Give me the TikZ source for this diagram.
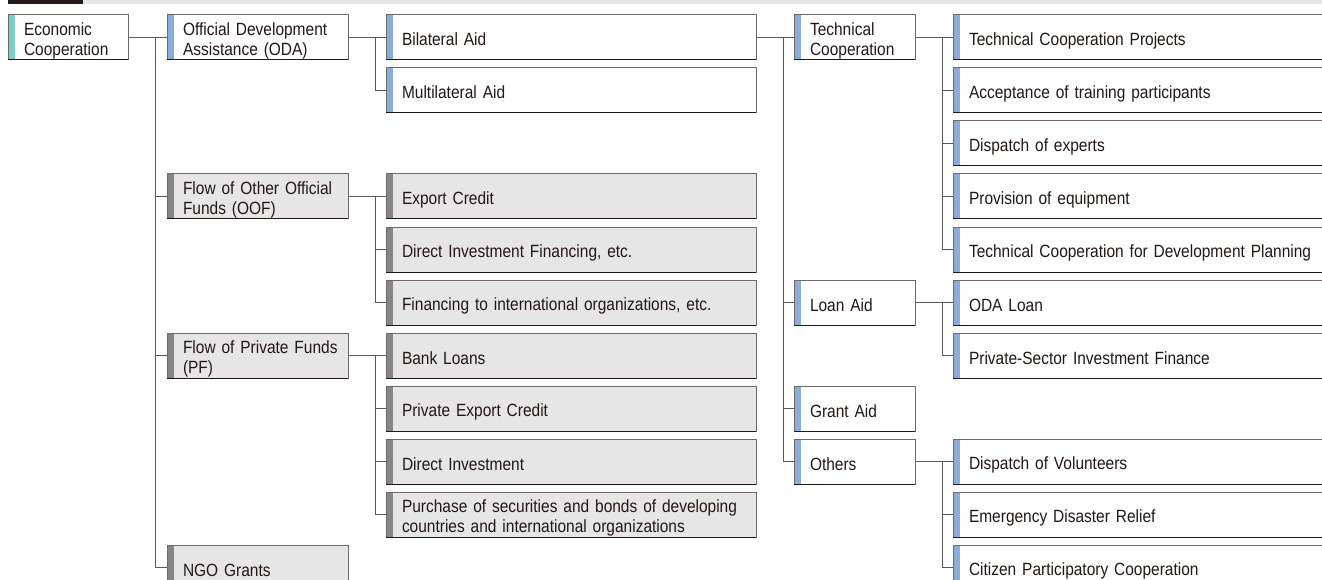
\documentclass[tikz,border=0pt]{standalone}
\usepackage{fontspec}
\setmainfont[FakeStretch=0.875]{Liberation Sans}
\usepackage{tikz}
\usetikzlibrary{positioning}

\definecolor{ink}{HTML}{231815}
\definecolor{boxline}{HTML}{6E6A69}
\definecolor{wire}{HTML}{5E5857}
\definecolor{greyfill}{HTML}{E6E6E6}
\definecolor{greybar}{HTML}{868686}
\definecolor{bluebar}{HTML}{8AACDB}
\definecolor{tealbar}{HTML}{7ECDC6}

\tikzset{
  box/.style={draw=boxline, line width=1pt, outer sep=0pt, anchor=north west,
    minimum height=45pt, inner xsep=6pt, inner ysep=0pt, align=left, text=ink,
    font=\fontsize{17.7}{20}\selectfont,
    execute at begin node={\leftskip=10pt\rule{0pt}{20pt}},
    execute at end node={\rule[-3pt]{0pt}{3pt}},
    path picture={\fill[#1] (path picture bounding box.south west)
      rectangle ([xshift=7pt]path picture bounding box.north west);},
    append after command={(\tikzlastnode.south west) edge[draw=ink, line width=1pt]
      (\tikzlastnode.south east)}},
  oda/.style={box=bluebar, fill=white},
  oof/.style={box=greybar, fill=greyfill},
  colA/.style={text width=108pt},
  colB/.style={text width=169pt},
  colC/.style={text width=358pt},
  colD/.style={text width=109pt},
  colE/.style={text width=388pt},
  link/.style={draw=wire, line width=1pt}
}

\begin{document}
\begin{tikzpicture}[x=1pt,y=-1pt,node distance=8pt]
  \useasboundingbox (0,0) rectangle (1322,580);
  % title strip
  \fill[ink] (8,0) rectangle (83,4.5);
  \fill[greyfill] (83,0) rectangle (1322,4.5);

  % third column
  \node[oda,colC] (bilateral) at (386,15) {Bilateral Aid};
  \node[oda,colC] (multilateral) [below=of bilateral] {Multilateral Aid};
  \node[oof,colC] (export) [below=61pt of multilateral] {Export Credit};
  \node[oof,colC] (dif) [below=of export] {Direct Investment Financing, etc.};
  \node[oof,colC] (finint) [below=of dif] {Financing to international organizations, etc.};
  \node[oof,colC] (bank) [below=of finint] {Bank Loans};
  \node[oof,colC] (pexport) [below=of bank] {Private Export Credit};
  \node[oof,colC] (dinvest) [below=of pexport] {Direct Investment};
  \node[oof,colC] (purchase) [below=of dinvest] {Purchase of securities and bonds of developing\\countries and international organizations};

  % second column
  \node[oda,colB] (odaflow) [left=38pt of bilateral] {Official Development\\Assistance (ODA)};
  \node[oof,colB] (oofflow) [left=38pt of export] {Flow of Other Official\\Funds (OOF)};
  \node[oof,colB] (pfflow) [left=38pt of bank] {Flow of Private Funds\\(PF)};
  \node[oof,colB] (ngo) at (167,545) {NGO Grants};

  % first column
  \node[box=tealbar,fill=white,colA] (econ) [left=39pt of odaflow] {Economic\\Cooperation};

  % fourth column
  \node[oda,colD] (tech) [right=38pt of bilateral] {Technical\\Cooperation};
  \node[oda,colD] (loan) [right=38pt of finint] {Loan Aid};
  \node[oda,colD] (grant) [right=38pt of pexport] {Grant Aid};
  \node[oda,colD] (others) [right=38pt of dinvest] {Others};

  % fifth column
  \node[oda,colE] (tcp) [right=38pt of tech] {Technical Cooperation Projects};
  \node[oda,colE] (trainee) [below=of tcp] {Acceptance of training participants};
  \node[oda,colE] (experts) [below=of trainee] {Dispatch of experts};
  \node[oda,colE] (equip) [below=of experts] {Provision of equipment};
  \node[oda,colE] (planning) [below=of equip] {Technical Cooperation for Development Planning};
  \node[oda,colE] (odaloan) [right=38pt of loan] {ODA Loan};
  \node[oda,colE] (psif) [below=of odaloan] {Private-Sector Investment Finance};
  \node[oda,colE] (volunteer) [right=38pt of others] {Dispatch of Volunteers};
  \node[oda,colE] (relief) [below=of volunteer] {Emergency Disaster Relief};
  \node[oda,colE] (citizen) [below=of relief] {Citizen Participatory Cooperation};

  % connectors
  \draw[link] (econ.east) -- (odaflow.west);
  \draw[link] ([xshift=-12pt]odaflow.west) |- (ngo.west);
  \foreach \n in {oofflow,pfflow}
    \draw[link] ([xshift=-12pt]odaflow.west |- \n.west) -- (\n.west);

  \draw[link] (odaflow.east) -- (bilateral.west);
  \draw[link] ([xshift=-11pt]bilateral.west) |- (multilateral.west);
  \draw[link] (oofflow.east) -- (export.west);
  \draw[link] ([xshift=-11pt]export.west) |- (finint.west);
  \draw[link] ([xshift=-11pt]dif.west) -- (dif.west);
  \draw[link] (pfflow.east) -- (bank.west);
  \draw[link] ([xshift=-11pt]bank.west) |- (purchase.west);
  \foreach \n in {pexport,dinvest}
    \draw[link] ([xshift=-11pt]\n.west) -- (\n.west);

  \draw[link] (bilateral.east) -- (tech.west);
  \draw[link] ([xshift=-11pt]tech.west) |- (others.west);
  \foreach \n in {loan,grant}
    \draw[link] ([xshift=-11pt]\n.west) -- (\n.west);

  \draw[link] (tech.east) -- (tcp.west);
  \draw[link] ([xshift=-11pt]tcp.west) |- (planning.west);
  \foreach \n in {trainee,experts,equip}
    \draw[link] ([xshift=-11pt]\n.west) -- (\n.west);
  \draw[link] (loan.east) -- (odaloan.west);
  \draw[link] ([xshift=-11pt]odaloan.west) |- (psif.west);
  \draw[link] (others.east) -- (volunteer.west);
  \draw[link] ([xshift=-11pt]volunteer.west) |- (citizen.west);
  \draw[link] ([xshift=-11pt]relief.west) -- (relief.west);
\end{tikzpicture}
\end{document}
